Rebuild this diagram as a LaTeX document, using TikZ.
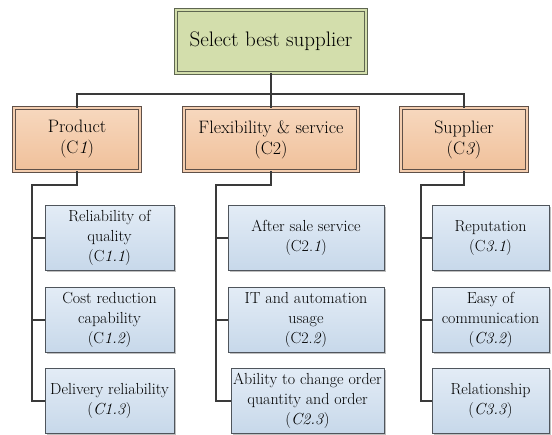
\documentclass[tikz,border=0pt]{standalone}
\usepackage{fontspec}
\usetikzlibrary{shadows}

\definecolor{goalfill}{HTML}{D3DEAC}
\definecolor{goalline}{HTML}{5E6650}
\definecolor{catTop}{HTML}{F7D8BE}
\definecolor{catBot}{HTML}{F0C09A}
\definecolor{catline}{HTML}{5F5048}
\definecolor{subTop}{HTML}{E3ECF6}
\definecolor{subBot}{HTML}{C7D8EA}
\definecolor{subline}{HTML}{4F555C}
\definecolor{wire}{HTML}{3A3A3A}

\tikzset{
  x=1pt, y=-1pt,
  boxshadow/.style={drop shadow={shadow xshift=2pt, shadow yshift=-2pt, fill=black, opacity=0.25}},
  goalbox/.style={draw=goalline, line width=0.8pt, double=goalfill, double distance=2pt,
    fill=goalfill, minimum width=190pt, minimum height=63pt, inner sep=0pt,
    align=center, font=\rmfamily\fontsize{21}{25}\selectfont, boxshadow},
  catbox/.style={draw=catline, line width=0.8pt, double=catTop!60!catBot, double distance=2pt,
    top color=catTop, bottom color=catBot, minimum height=63pt, inner sep=0pt,
    align=center, font=\rmfamily\fontsize{18}{21}\selectfont, boxshadow},
  subbox/.style={draw=subline, line width=0.8pt, top color=subTop, bottom color=subBot,
    minimum height=65pt, inner sep=0pt, align=center,
    font=\rmfamily\fontsize{16}{20}\selectfont, boxshadow},
  link/.style={draw=wire, line width=1.4pt}
}

\begin{document}
\begin{tikzpicture}
\useasboundingbox (0,0) rectangle (552,435);

% goal
\node[goalbox] (goal) at (271,41.5) {Select best supplier};

% criteria
\node[catbox, minimum width=126pt] (c1) at (77,139.5) {Product\\(C\textit{1})};
\node[catbox, minimum width=174pt] (c2) at (271,139.5) {Flexibility \& service\\(C2)};
\node[catbox, minimum width=126pt] (c3) at (464,139.5) {Supplier\\(C\textit{3})};

% sub-criteria of C1
\node[subbox, minimum width=129pt] (s11) at (109.5,238) {Reliability of\\quality\\(C\textit{1.1})};
\node[subbox, minimum width=129pt] (s12) at (109.5,320) {Cost reduction\\capability\\(C\textit{1.2})};
\node[subbox, minimum width=129pt] (s13) at (109.5,401) {Delivery reliability\\(\textit{C1.3})};

% sub-criteria of C2
\node[subbox, minimum width=156pt] (s21) at (306,238) {After sale service\\(C2.\textit{1})};
\node[subbox, minimum width=156pt] (s22) at (306,320) {IT and automation\\usage\\(C2.\textit{2})};
\node[subbox, minimum width=153pt] (s23) at (307.5,401) {Ability to change order\\quantity and order\\(\textit{C2.3})};

% sub-criteria of C3
\node[subbox, minimum width=117pt] (s31) at (490.5,238) {Reputation\\(C\textit{3.1})};
\node[subbox, minimum width=117pt] (s32) at (490.5,320) {Easy of\\communication\\(\textit{C3.2})};
\node[subbox, minimum width=117pt] (s33) at (490.5,401) {Relationship\\(\textit{C3.3})};

% connectors
\coordinate (bus) at (0,94);
\coordinate (k1) at (32,185);
\coordinate (k2) at (216,185);
\coordinate (k3) at (421,185);

\draw[link] (goal.south) -- (goal.south |- bus);
\draw[link] (c1.north) -- (c1.north |- bus) -- (c3.north |- bus) -- (c3.north);
\draw[link] (c2.north |- bus) -- (c2.north);

\draw[link] (c1.south) |- (k1) -- (k1 |- s13.west) -- (s13.west);
\draw[link] (k1 |- s11.west) -- (s11.west);
\draw[link] (k1 |- s12.west) -- (s12.west);

\draw[link] (c2.south) |- (k2) -- (k2 |- s23.west) -- (s23.west);
\draw[link] (k2 |- s21.west) -- (s21.west);
\draw[link] (k2 |- s22.west) -- (s22.west);

\draw[link] (c3.south) |- (k3) -- (k3 |- s33.west) -- (s33.west);
\draw[link] (k3 |- s31.west) -- (s31.west);
\draw[link] (k3 |- s32.west) -- (s32.west);
\end{tikzpicture}
\end{document}
